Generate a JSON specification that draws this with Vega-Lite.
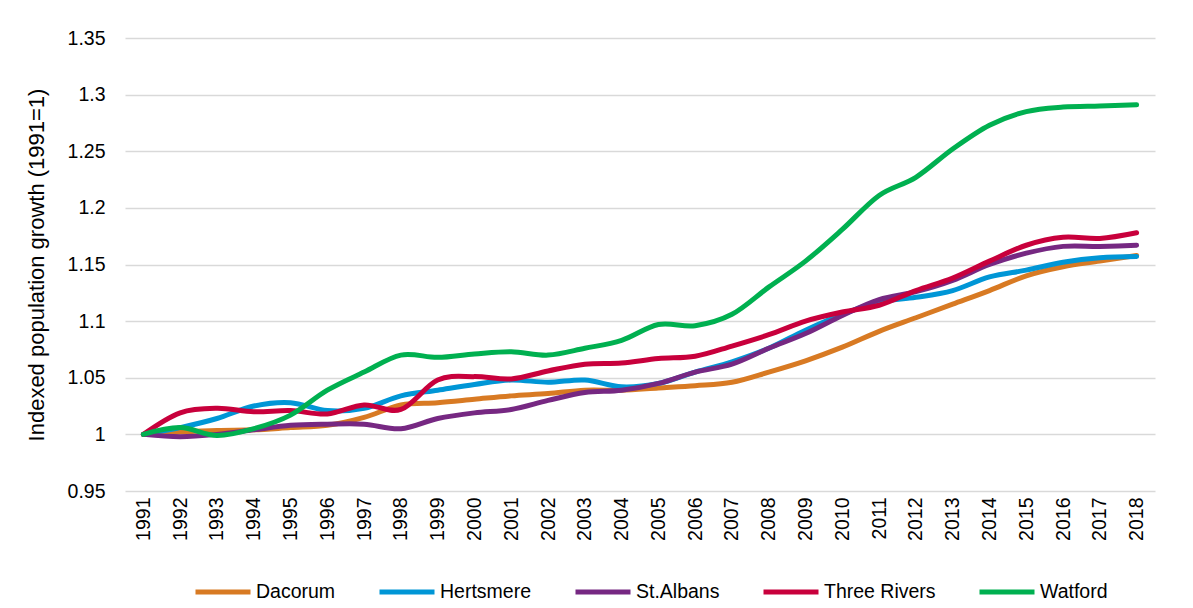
{
  "$schema": "https://vega.github.io/schema/vega-lite/v6.json",
  "width": 1030,
  "height": 453,
  "autosize": {"type": "none"},
  "padding": {"left": 125, "top": 38, "right": 38, "bottom": 117},
  "background": "white",
  "config": {"font": "Liberation Sans", "view": {"stroke": null}},
  "datasets": {
    "d": [
      {"Year":"1991","District":"Dacorum","Index":1.000},
      {"Year":"1992","District":"Dacorum","Index":1.002},
      {"Year":"1993","District":"Dacorum","Index":1.0035},
      {"Year":"1994","District":"Dacorum","Index":1.004},
      {"Year":"1995","District":"Dacorum","Index":1.006},
      {"Year":"1996","District":"Dacorum","Index":1.008},
      {"Year":"1997","District":"Dacorum","Index":1.015},
      {"Year":"1998","District":"Dacorum","Index":1.026},
      {"Year":"1999","District":"Dacorum","Index":1.028},
      {"Year":"2000","District":"Dacorum","Index":1.031},
      {"Year":"2001","District":"Dacorum","Index":1.034},
      {"Year":"2002","District":"Dacorum","Index":1.036},
      {"Year":"2003","District":"Dacorum","Index":1.039},
      {"Year":"2004","District":"Dacorum","Index":1.039},
      {"Year":"2005","District":"Dacorum","Index":1.041},
      {"Year":"2006","District":"Dacorum","Index":1.043},
      {"Year":"2007","District":"Dacorum","Index":1.046},
      {"Year":"2008","District":"Dacorum","Index":1.055},
      {"Year":"2009","District":"Dacorum","Index":1.065},
      {"Year":"2010","District":"Dacorum","Index":1.077},
      {"Year":"2011","District":"Dacorum","Index":1.091},
      {"Year":"2012","District":"Dacorum","Index":1.103},
      {"Year":"2013","District":"Dacorum","Index":1.115},
      {"Year":"2014","District":"Dacorum","Index":1.127},
      {"Year":"2015","District":"Dacorum","Index":1.140},
      {"Year":"2016","District":"Dacorum","Index":1.148},
      {"Year":"2017","District":"Dacorum","Index":1.153},
      {"Year":"2018","District":"Dacorum","Index":1.158},

      {"Year":"1991","District":"Hertsmere","Index":1.000},
      {"Year":"1992","District":"Hertsmere","Index":1.006},
      {"Year":"1993","District":"Hertsmere","Index":1.014},
      {"Year":"1994","District":"Hertsmere","Index":1.025},
      {"Year":"1995","District":"Hertsmere","Index":1.028},
      {"Year":"1996","District":"Hertsmere","Index":1.021},
      {"Year":"1997","District":"Hertsmere","Index":1.023},
      {"Year":"1998","District":"Hertsmere","Index":1.034},
      {"Year":"1999","District":"Hertsmere","Index":1.039},
      {"Year":"2000","District":"Hertsmere","Index":1.044},
      {"Year":"2001","District":"Hertsmere","Index":1.048},
      {"Year":"2002","District":"Hertsmere","Index":1.046},
      {"Year":"2003","District":"Hertsmere","Index":1.048},
      {"Year":"2004","District":"Hertsmere","Index":1.042},
      {"Year":"2005","District":"Hertsmere","Index":1.045},
      {"Year":"2006","District":"Hertsmere","Index":1.055},
      {"Year":"2007","District":"Hertsmere","Index":1.064},
      {"Year":"2008","District":"Hertsmere","Index":1.076},
      {"Year":"2009","District":"Hertsmere","Index":1.092},
      {"Year":"2010","District":"Hertsmere","Index":1.106},
      {"Year":"2011","District":"Hertsmere","Index":1.117},
      {"Year":"2012","District":"Hertsmere","Index":1.121},
      {"Year":"2013","District":"Hertsmere","Index":1.127},
      {"Year":"2014","District":"Hertsmere","Index":1.139},
      {"Year":"2015","District":"Hertsmere","Index":1.145},
      {"Year":"2016","District":"Hertsmere","Index":1.152},
      {"Year":"2017","District":"Hertsmere","Index":1.156},
      {"Year":"2018","District":"Hertsmere","Index":1.157},

      {"Year":"1991","District":"St.Albans","Index":1.000},
      {"Year":"1992","District":"St.Albans","Index":0.998},
      {"Year":"1993","District":"St.Albans","Index":1.000},
      {"Year":"1994","District":"St.Albans","Index":1.004},
      {"Year":"1995","District":"St.Albans","Index":1.008},
      {"Year":"1996","District":"St.Albans","Index":1.009},
      {"Year":"1997","District":"St.Albans","Index":1.009},
      {"Year":"1998","District":"St.Albans","Index":1.005},
      {"Year":"1999","District":"St.Albans","Index":1.014},
      {"Year":"2000","District":"St.Albans","Index":1.019},
      {"Year":"2001","District":"St.Albans","Index":1.022},
      {"Year":"2002","District":"St.Albans","Index":1.030},
      {"Year":"2003","District":"St.Albans","Index":1.037},
      {"Year":"2004","District":"St.Albans","Index":1.039},
      {"Year":"2005","District":"St.Albans","Index":1.045},
      {"Year":"2006","District":"St.Albans","Index":1.055},
      {"Year":"2007","District":"St.Albans","Index":1.062},
      {"Year":"2008","District":"St.Albans","Index":1.076},
      {"Year":"2009","District":"St.Albans","Index":1.089},
      {"Year":"2010","District":"St.Albans","Index":1.105},
      {"Year":"2011","District":"St.Albans","Index":1.119},
      {"Year":"2012","District":"St.Albans","Index":1.126},
      {"Year":"2013","District":"St.Albans","Index":1.136},
      {"Year":"2014","District":"St.Albans","Index":1.150},
      {"Year":"2015","District":"St.Albans","Index":1.160},
      {"Year":"2016","District":"St.Albans","Index":1.166},
      {"Year":"2017","District":"St.Albans","Index":1.166},
      {"Year":"2018","District":"St.Albans","Index":1.167},

      {"Year":"1991","District":"Three Rivers","Index":1.000},
      {"Year":"1992","District":"Three Rivers","Index":1.019},
      {"Year":"1993","District":"Three Rivers","Index":1.023},
      {"Year":"1994","District":"Three Rivers","Index":1.020},
      {"Year":"1995","District":"Three Rivers","Index":1.021},
      {"Year":"1996","District":"Three Rivers","Index":1.018},
      {"Year":"1997","District":"Three Rivers","Index":1.026},
      {"Year":"1998","District":"Three Rivers","Index":1.022},
      {"Year":"1999","District":"Three Rivers","Index":1.048},
      {"Year":"2000","District":"Three Rivers","Index":1.051},
      {"Year":"2001","District":"Three Rivers","Index":1.049},
      {"Year":"2002","District":"Three Rivers","Index":1.056},
      {"Year":"2003","District":"Three Rivers","Index":1.062},
      {"Year":"2004","District":"Three Rivers","Index":1.063},
      {"Year":"2005","District":"Three Rivers","Index":1.067},
      {"Year":"2006","District":"Three Rivers","Index":1.069},
      {"Year":"2007","District":"Three Rivers","Index":1.078},
      {"Year":"2008","District":"Three Rivers","Index":1.088},
      {"Year":"2009","District":"Three Rivers","Index":1.100},
      {"Year":"2010","District":"Three Rivers","Index":1.108},
      {"Year":"2011","District":"Three Rivers","Index":1.114},
      {"Year":"2012","District":"Three Rivers","Index":1.127},
      {"Year":"2013","District":"Three Rivers","Index":1.138},
      {"Year":"2014","District":"Three Rivers","Index":1.153},
      {"Year":"2015","District":"Three Rivers","Index":1.167},
      {"Year":"2016","District":"Three Rivers","Index":1.174},
      {"Year":"2017","District":"Three Rivers","Index":1.173},
      {"Year":"2018","District":"Three Rivers","Index":1.178},

      {"Year":"1991","District":"Watford","Index":1.000},
      {"Year":"1992","District":"Watford","Index":1.006},
      {"Year":"1993","District":"Watford","Index":0.999},
      {"Year":"1994","District":"Watford","Index":1.005},
      {"Year":"1995","District":"Watford","Index":1.017},
      {"Year":"1996","District":"Watford","Index":1.039},
      {"Year":"1997","District":"Watford","Index":1.055},
      {"Year":"1998","District":"Watford","Index":1.070},
      {"Year":"1999","District":"Watford","Index":1.068},
      {"Year":"2000","District":"Watford","Index":1.071},
      {"Year":"2001","District":"Watford","Index":1.073},
      {"Year":"2002","District":"Watford","Index":1.070},
      {"Year":"2003","District":"Watford","Index":1.076},
      {"Year":"2004","District":"Watford","Index":1.083},
      {"Year":"2005","District":"Watford","Index":1.097},
      {"Year":"2006","District":"Watford","Index":1.096},
      {"Year":"2007","District":"Watford","Index":1.106},
      {"Year":"2008","District":"Watford","Index":1.130},
      {"Year":"2009","District":"Watford","Index":1.153},
      {"Year":"2010","District":"Watford","Index":1.181},
      {"Year":"2011","District":"Watford","Index":1.211},
      {"Year":"2012","District":"Watford","Index":1.227},
      {"Year":"2013","District":"Watford","Index":1.252},
      {"Year":"2014","District":"Watford","Index":1.273},
      {"Year":"2015","District":"Watford","Index":1.285},
      {"Year":"2016","District":"Watford","Index":1.289},
      {"Year":"2017","District":"Watford","Index":1.290},
      {"Year":"2018","District":"Watford","Index":1.291}
    ]
  },
  "data": {"name": "d"},
  "mark": {"type": "line", "interpolate": "cardinal", "strokeWidth": 5, "strokeCap": "round"},
  "encoding": {
    "x": {
      "field": "Year",
      "type": "ordinal",
      "scale": {"type": "point", "padding": 0.5},
      "axis": {
        "title": null,
        "labelAngle": -90,
        "labelAlign": "right",
        "labelBaseline": "middle",
        "labelFontSize": 19.5,
        "labelColor": "black",
        "labelPadding": 6,
        "ticks": false,
        "domain": false,
        "grid": false
      }
    },
    "y": {
      "field": "Index",
      "type": "quantitative",
      "scale": {"domain": [0.95, 1.35], "nice": false, "zero": false},
      "axis": {
        "values": [0.95, 1, 1.05, 1.1, 1.15, 1.2, 1.25, 1.3, 1.35],
        "format": "~g",
        "title": "Indexed population growth (1991=1)",
        "titleFontSize": 22,
        "titleFontWeight": "normal",
        "titleColor": "black",
        "titlePadding": 19,
        "labelFontSize": 19.5,
        "labelColor": "black",
        "labelPadding": 20,
        "ticks": false,
        "domain": false,
        "gridColor": "#d9d9d9",
        "gridWidth": 1.5
      }
    },
    "color": {
      "field": "District",
      "type": "nominal",
      "scale": {
        "domain": ["Dacorum", "Hertsmere", "St.Albans", "Three Rivers", "Watford"],
        "range": ["#D87A23", "#0096D6", "#762882", "#C8003C", "#00B050"]
      },
      "legend": {
        "title": null,
        "orient": "none",
        "direction": "horizontal",
        "legendX": 68,
        "legendY": 524,
        "symbolType": "stroke",
        "symbolSize": 3025,
        "symbolStrokeWidth": 5,
        "labelFontSize": 19.5,
        "labelColor": "black",
        "labelOffset": 3,
        "columnPadding": 33
      }
    }
  }
}
